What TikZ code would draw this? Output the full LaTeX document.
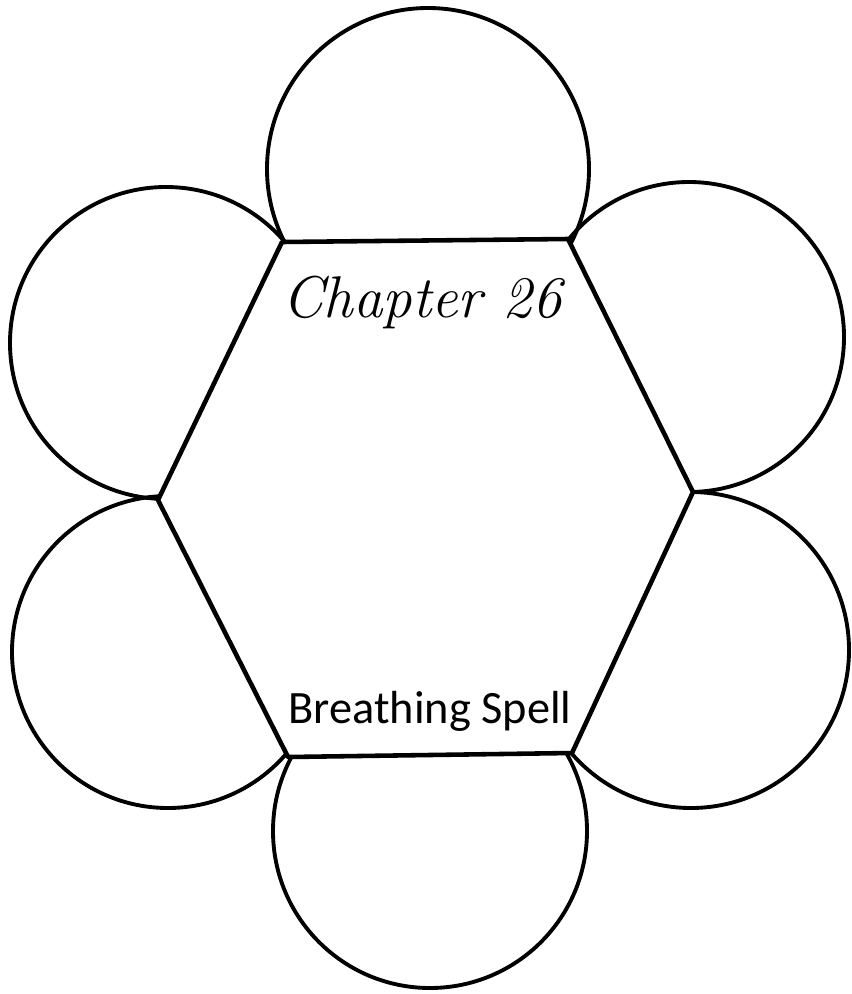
\documentclass[tikz,border=0pt]{standalone}
\usepackage{fontspec}
\newfontfamily\calibri{Carlito}
\begin{document}
\begin{tikzpicture}[x=0.02cm,y=-0.02cm,line join=round,
  petal/.style={line width=2.2pt},
  rim/.style={fill=white,line width=2.6pt}]
\useasboundingbox (0,0) rectangle (852,994);
% petals round the hexagon
\draw[petal] (428,169) circle (161);
\draw[petal] (689,337) circle (155);
\draw[petal] (691,650) circle (158);
\draw[petal] (430,831) circle (157);
\draw[petal] (168,652) circle (156);
\draw[petal] (166,343) circle (156);
% hexagon
\coordinate (tl) at (282,242);
\coordinate (tr) at (568,239);
\coordinate (rt) at (693,492);
\coordinate (br) at (572,753);
\coordinate (bl) at (288,757);
\coordinate (lf) at (158,500);
\filldraw[rim] (tl) -- (tr) -- (rt) -- (br) -- (bl) -- (lf) -- cycle;
\node[anchor=base] (chap) at (422,317) {\itshape\fontsize{33.5}{38}\selectfont Chapter 26};
\node[anchor=base] (title) at (430,723) {\calibri\fontsize{26.4}{30}\selectfont Breathing Spell};
\end{tikzpicture}
\end{document}
